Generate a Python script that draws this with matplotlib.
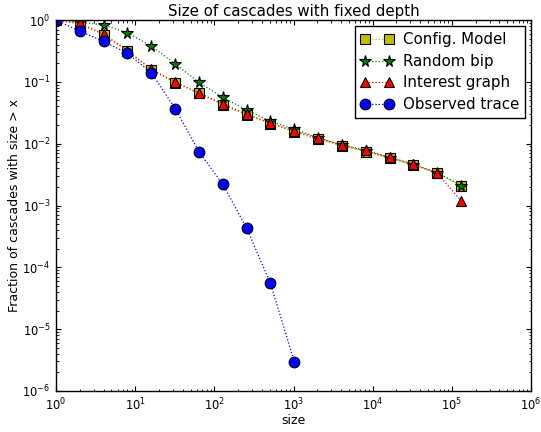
import matplotlib
matplotlib.use("Agg")
import matplotlib.pyplot as plt

sizes = [1, 2, 4, 8, 16, 32, 64, 128, 256, 512, 1024, 2048, 4096, 8192,
         16384, 32768, 65536, 131072]
config_model = [1.0, 0.86, 0.57, 0.31, 0.155, 0.097, 0.065, 0.042, 0.029,
                0.021, 0.0156, 0.0118, 0.0091, 0.0074, 0.0058, 0.0045,
                0.0033, 0.0021]
random_bip = [1.0, 0.93, 0.83, 0.62, 0.38, 0.195, 0.098, 0.056, 0.035,
              0.023, 0.017, 0.0125, 0.0095, 0.0076, 0.0059, 0.0046,
              0.0034, 0.0021]
interest_graph = [1.0, 0.88, 0.59, 0.32, 0.16, 0.099, 0.066, 0.044, 0.030,
                  0.0215, 0.016, 0.0122, 0.0095, 0.0079, 0.006, 0.0047,
                  0.0033, 0.0012]
obs_sizes = [1, 2, 4, 8, 16, 32, 64, 128, 256, 512, 1024]
observed = [1.0, 0.66, 0.45, 0.29, 0.14, 0.037, 0.0074, 0.0022, 4.3e-4,
            5.5e-5, 2.95e-6]

plt.rcParams['font.family'] = ['DejaVu Sans']
plt.rcParams['font.size'] = 9
plt.rcParams['xtick.direction'] = 'in'
plt.rcParams['ytick.direction'] = 'in'
plt.rcParams['xtick.top'] = True
plt.rcParams['ytick.right'] = True

fig = plt.figure(figsize=(5.41, 4.32), dpi=100)
ax = fig.add_axes([56/541, 1 - 391/432, (531-56)/541, (391-20)/432])

ms = 7.2
mew = 0.8
ax.plot(sizes, config_model, ':', color='y', marker='s', markersize=ms,
        markerfacecolor='y', markeredgecolor='k', markeredgewidth=mew,
        lw=0.9, label='Config. Model')
ax.plot(sizes, random_bip, ':', color='g', marker='*', markersize=ms + 1.3,
        markerfacecolor='g', markeredgecolor='k', markeredgewidth=mew,
        lw=0.9, label='Random bip')
ax.plot(sizes, interest_graph, ':', color='r', marker='^', markersize=ms + 0.5,
        markerfacecolor='r', markeredgecolor='k', markeredgewidth=mew,
        lw=0.9, label='Interest graph')
ax.plot(obs_sizes, observed, ':', color='b', marker='o', markersize=ms + 0.5,
        markerfacecolor='b', markeredgecolor='k', markeredgewidth=mew,
        lw=0.9, label='Observed trace')

ax.set_xscale('log')
ax.set_yscale('log')
ax.set_xlim(1, 1e6)
ax.set_ylim(1e-6, 1)

ax.tick_params(which='major', length=3.5, width=0.8, pad=4, labelsize=8.3)
ax.tick_params(which='minor', length=1.8, width=0.6)
for s in ax.spines.values():
    s.set_linewidth(1.0)

ax.set_title('Size of cascades with fixed depth', fontsize=10.8, pad=3)
ax.set_xlabel('size')
ax.set_ylabel('Fraction of cascades with size > x')
ax.yaxis.set_label_coords((15 - 56) / (531 - 56), 0.5)
ax.xaxis.set_label_coords(0.5, -(421 - 391) / (391 - 20))
ax.xaxis.label.set_verticalalignment('center')
ax.yaxis.label.set_verticalalignment('center')

leg = ax.legend(loc='upper right', numpoints=2, fontsize=10.8,
                fancybox=False, framealpha=1, edgecolor='k',
                borderaxespad=0.4, handlelength=2.2, labelspacing=0.45,
                borderpad=0.4, handletextpad=0.6)
leg.get_frame().set_linewidth(1.0)

fig.savefig('out.png', dpi=100)
